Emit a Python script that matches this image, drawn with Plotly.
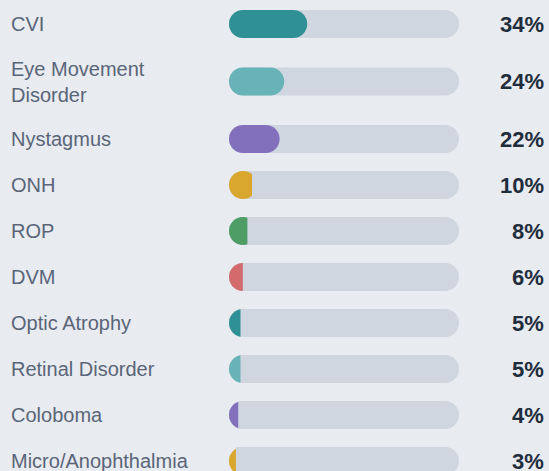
import plotly.graph_objects as go

# ---- data ----
conditions = ["CVI", "Eye Movement<br>Disorder", "Nystagmus", "ONH", "ROP", "DVM",
              "Optic Atrophy", "Retinal Disorder", "Coloboma", "Micro/Anophthalmia"]
shares = [34, 24, 22, 10, 8, 6, 5, 5, 4, 3]
share_labels = [f"{v}%" for v in shares]

# ---- style ----
palette = ["#2f9195", "#68b3b7", "#8370bd", "#d9a62e", "#4e9c66", "#d36a6b"]
colors = [palette[i % len(palette)] for i in range(len(conditions))]
BG = "#e8ebf0"
TRACK = "#d0d6e0"
LABEL_C = "#5a6578"
PCT_C = "#1f2d3d"
FONT = "Liberation Sans, Arial, sans-serif"

W, H = 549, 471
ML, MR = 229, 90
PLOT_W = W - ML - MR
ROW_H, LINE_H, BAR_H, TOP = 46, 23, 28, 1

# row centres (1 y-unit = 1 px), taller rows for multi-line labels
ys = []
cur = TOP
for c in conditions:
    h = ROW_H + LINE_H * c.count("<br>")
    ys.append(cur + h / 2)
    cur += h

R = (BAR_H / 2) * 100 / PLOT_W  # corner radius in data units
D = 2 * R
n = len(conditions)

fig = go.Figure()
bar_common = dict(orientation="h", width=BAR_H, hoverinfo="skip", showlegend=False)

# track (pill)
fig.add_trace(go.Bar(y=ys, x=[100] * n, base=[0] * n,
                     marker=dict(color=TRACK, cornerradius=BAR_H / 2, line_width=0), **bar_common))
# fill (pill, at least one full cap wide)
fig.add_trace(go.Bar(y=ys, x=[max(v, D) for v in shares], base=[0] * n,
                     marker=dict(color=colors, cornerradius=BAR_H / 2, line_width=0), **bar_common))
# for short fills, hide the part of the cap beyond the value (clipped like in the track)
mask_len = [(D - v) if v < D else None for v in shares]
fig.add_trace(go.Bar(y=ys, x=mask_len, base=shares,
                     marker=dict(color=TRACK, cornerradius=0, line_width=0), **bar_common))

annotations = []
for c, y, lab in zip(conditions, ys, share_labels):
    annotations.append(dict(text=c, xref="paper", x=0, xanchor="left", xshift=-(ML - 9),
                            yref="y", y=y, yanchor="middle", align="left", showarrow=False,
                            font=dict(family=FONT, size=20, color=LABEL_C)))
    annotations.append(dict(text=f"<b>{lab}</b>", xref="paper", x=1, xanchor="right", xshift=MR - 3,
                            yref="y", y=y, yanchor="middle", showarrow=False,
                            font=dict(family=FONT, size=22, color=PCT_C)))

fig.update_layout(
    width=W, height=H,
    margin=dict(l=ML, r=MR, t=0, b=0, pad=0),
    paper_bgcolor=BG, plot_bgcolor=BG,
    barmode="overlay",
    xaxis=dict(range=[0, 100], visible=False, fixedrange=True),
    yaxis=dict(range=[H, 0], visible=False, fixedrange=True),
    annotations=annotations,
    hovermode=False,
)

fig.write_html("out.html", config={"displayModeBar": False},
               post_script="document.body.style.margin='0';document.body.style.overflow='hidden';")
